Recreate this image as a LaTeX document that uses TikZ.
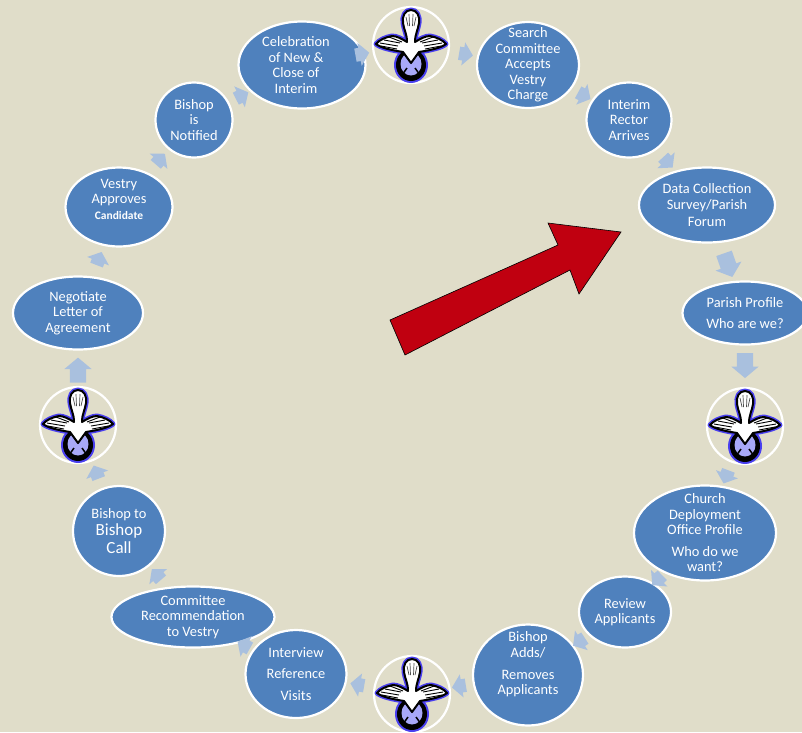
\documentclass[tikz,border=0pt]{standalone}
\usepackage{fontspec}
\setmainfont{Carlito}
\usetikzlibrary{shapes.geometric,shapes.arrows}
\definecolor{pagebg}{HTML}{E0DDC9}
\definecolor{stageblue}{HTML}{4F81BD}
\definecolor{flowblue}{HTML}{A9C0DE}
\definecolor{redarrow}{HTML}{C00010}
\definecolor{halo}{HTML}{4A40F0}
\definecolor{lavender}{HTML}{A8A8F8}
\newcommand{\dovebody}{(0,-35) .. controls (-6,-35) and (-9,-29) .. (-8,-22) .. controls (-7,-15) and (-4,-11) .. (-4,-3)
	.. controls (-9,-6) and (-14,-9) .. (-19,-9) .. controls (-25,-8) and (-32,-5) .. (-35,-1)
	.. controls (-30,3) and (-20,5) .. (-8,7) -- (0,18) -- (8,7)
	.. controls (20,5) and (30,3) .. (35,-1) .. controls (32,-5) and (25,-8) .. (19,-9)
	.. controls (14,-9) and (9,-6) .. (4,-3) .. controls (4,-11) and (7,-15) .. (8,-22)
	.. controls (9,-29) and (6,-35) .. (0,-35) -- cycle}
\newcommand{\leftnudge}{\hspace*{-12pt}}
\tikzset{
	stage/.style={ellipse,draw=white,line width=2.2pt,fill=stageblue,text=white,align=center,inner sep=-20pt,font=\fontsize{14.4}{15.5}\selectfont},
	dovering/.style={circle,draw=white,line width=2.2pt,inner sep=0pt,minimum size=76pt},
	flow/.style={single arrow,fill=flowblue,inner xsep=0pt,inner ysep=6.5pt,minimum height=14pt,single arrow head extend=5pt,single arrow tip angle=100},
	bigflow/.style={flow,minimum height=25pt,inner ysep=8pt,single arrow head extend=5.5pt},
	dove/.pic={
		\fill[halo] (0,20) ellipse (17 and 18);
		\draw[halo,line width=5pt,line join=round] \dovebody;
		\fill[black] (0,20) ellipse (15 and 16);
		\fill[lavender] (0,19) ellipse (10.5 and 11.5);
		\draw[black,line width=1.5pt] (-4,23) -- (-9,30) (4,23) -- (9,30);
		\draw[black,line width=2pt,line join=round,fill=white] \dovebody;
		\foreach \sx in {-1,1}{
			\draw[black,line width=.9pt] (\sx*31,-2) -- (\sx*13,1) (\sx*27,-5) -- (\sx*11,-2) (\sx*22,-8) -- (\sx*9,-3) (\sx*30,1) -- (\sx*14,4);
			\draw[black!70,line width=.7pt] (\sx*2,-31) -- (\sx*1.5,-19) (\sx*5,-28) -- (\sx*3,-19);
		}
	}
}
\begin{document}
\begin{tikzpicture}[x=1pt,y=-1pt]
	\fill[pagebg] (0,0) rectangle (802,732);
	\clip (0,0) rectangle (802,732);
	\node[dovering] (dovetop) at (411,45) {};
	\node[stage,minimum width=102pt,minimum height=86pt] (search) at (528,65) {Search\\Committee\\Accepts\\Vestry\\Charge};
	\node[stage,minimum width=85pt,minimum height=75pt] (interim) at (629,120) {Interim\\Rector\\Arrives};
	\node[stage,minimum width=136pt,minimum height=75pt] (data) at (707,205) {Data Collection\\[1pt]Survey/Parish\\[1pt]Forum};
	\node[stage,minimum width=125pt,minimum height=63pt] (profile) at (745,313) {Parish Profile\\[6pt]Who are we?};
	\node[dovering] (doveright) at (745,426) {};
	\node[stage,minimum width=142pt,minimum height=95pt] (church) at (705,533) {Church\\Deployment\\Office Profile\\[6pt]Who do we\\want?};
	\node[stage,minimum width=92pt,minimum height=71pt] (review) at (625,612) {Review\\Applicants};
	\node[stage,minimum width=110pt,minimum height=101pt] (adds) at (528,675) {Bishop\\Adds/\\[6.5pt]Removes\\Applicants\\[8pt]\mbox{}};
	\node[dovering] (dovebottom) at (412,694) {};
	\node[stage,minimum width=101pt,minimum height=88pt] (interview) at (296,674) {Interview\\[6pt]Reference\\[6pt]Visits};
	\node[stage,minimum width=163pt,minimum height=61pt] (committee) at (193,617) {Committee\\Recommendation\\to Vestry};
	\node[stage,minimum width=92pt,minimum height=90pt] (call) at (119,531) {Bishop to\\[2pt]{\fontsize{17}{18}\selectfont Bishop}\\[2pt]{\fontsize{17}{18}\selectfont Call}};
	\node[dovering] (doveleft) at (78,425) {};
	\node[stage,minimum width=130pt,minimum height=73pt] (negotiate) at (78,313) {Negotiate\\Letter of\\Agreement};
	\node[stage,minimum width=107pt,minimum height=79pt] (vestry) at (119,207) {Vestry\\Approves\\{\fontsize{11.5}{12}\selectfont\bfseries Candidate}\\\mbox{}};
	\node[stage,minimum width=77pt,minimum height=75pt] (notified) at (194,120) {Bishop\\is\\Notified};
	\node[stage,minimum width=127pt,minimum height=87pt] (celebration) at (302,65) {\leftnudge Celebration\\\leftnudge of New \&\\\leftnudge Close of\\\leftnudge Interim};
	% doves
	\foreach \d in {dovetop,doveright,dovebottom,doveleft}
		\pic at (\d) {dove};
	% small arrows round the ring
	\foreach \a/\b/\p in {celebration/dovetop/-.6,dovetop/search/.5,search/interim/.5,interim/data/.5,doveright/church/.5,church/review/.5,review/adds/.5,adds/dovebottom/.5,dovebottom/interview/.5,interview/committee/.5,committee/call/.5,call/doveleft/.5,negotiate/vestry/.5,vestry/notified/.5,notified/celebration/.5}
		\path (\a) -- node[flow,sloped,allow upside down,pos=\p] (\a-\b) {} (\b);
	\foreach \a/\b/\p in {data/profile/.5,profile/doveright/.4,doveleft/negotiate/.35}
		\path (\a) -- node[bigflow,sloped,allow upside down,pos=\p] (\a-\b) {} (\b);
	% big red arrow
	\draw[black,line width=.6pt,fill=redarrow] (390,320) -- (558,245) -- (548,223) -- (621,232) -- (579,294) -- (570,270) -- (405,355) -- cycle;
\end{tikzpicture}
\end{document}
